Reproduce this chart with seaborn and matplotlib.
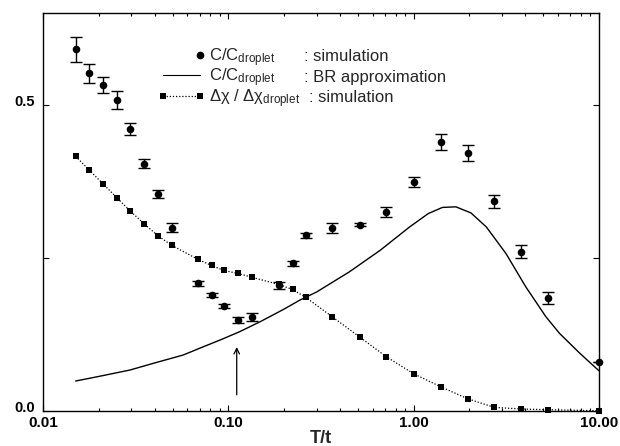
import numpy as np
import pandas as pd
import seaborn as sns
import matplotlib.pyplot as plt
import matplotlib.transforms as mtransforms
from matplotlib.ticker import FixedLocator, NullFormatter

# T/t hodnoty pro body simulace
T = [0.015, 0.0178, 0.0211, 0.025, 0.0296, 0.0352, 0.0415, 0.0494, 0.0687,
     0.0812, 0.0949, 0.113, 0.1334, 0.187, 0.222, 0.262, 0.3645, 0.512,
     0.713, 1.0, 1.398, 1.955, 2.72, 3.806, 5.32, 10.0]

# C/C_droplet simulace + chyby
C_sim = [0.590, 0.551, 0.532, 0.507, 0.4595, 0.4036, 0.354, 0.299, 0.208,
         0.189, 0.171, 0.1475, 0.153, 0.2046, 0.2405, 0.2866, 0.299, 0.304,
         0.3246, 0.374, 0.4388, 0.421, 0.342, 0.260, 0.1843, 0.080]
C_err = [0.020, 0.015, 0.0125, 0.0145, 0.0098, 0.0073, 0.0068, 0.0068, 0.0046,
         0.004, 0.003, 0.005, 0.006, 0.006, 0.004, 0.004, 0.008, 0.003,
         0.008, 0.008, 0.013, 0.013, 0.011, 0.0106, 0.0104, 0.0]

# delta chi / delta chi_droplet
dchi = [0.4155, 0.3927, 0.3703, 0.3481, 0.3258, 0.3051, 0.2861, 0.2703, 0.247,
        0.2372, 0.229, 0.2241, 0.2181, 0.2062, 0.198, 0.185, 0.1533, 0.1202,
        0.0881, 0.0604, 0.0392, 0.0196, 0.0055, 0.0028, 0.0016, 0.0]

# BR aproximace
BR_T = [0.015, 0.02, 0.0294, 0.04, 0.057, 0.07, 0.092, 0.115, 0.15, 0.2,
        0.243, 0.30, 0.45, 0.66, 0.95, 1.2, 1.43, 1.69, 2.04, 2.47, 3.15,
        4.03, 5.18, 6.13, 7.9, 10.0]
BR = [0.0485, 0.056, 0.0664, 0.078, 0.0909, 0.102, 0.1165, 0.129, 0.146,
      0.166, 0.1806, 0.194, 0.2268, 0.262, 0.300, 0.322, 0.332, 0.333, 0.323,
      0.300, 0.2567, 0.2023, 0.1533, 0.1263, 0.0936, 0.0653]

x_ticks = [0.01, 0.1, 1.0, 10.0]
x_labels = ["0.01", "0.10", "1.00", "10.00"]
y_ticks = [0.0, 0.25, 0.5]
y_labels = ["0.0", "", "0.5"]

arrow_T = 0.111

sim = pd.DataFrame({"T": T, "C": C_sim, "err": C_err, "dchi": dchi})
br = pd.DataFrame({"T": BR_T, "C": BR})

sns.set_style("ticks")
plt.rcParams["font.family"] = ["Liberation Sans", "DejaVu Sans"]
plt.rcParams["mathtext.fontset"] = "custom"
plt.rcParams["mathtext.rm"] = "Liberation Sans"
plt.rcParams["mathtext.it"] = "Liberation Sans:italic"

fig = plt.figure(figsize=(6.2, 4.46), dpi=100)
ax = fig.add_axes([0.0694, 0.0791, 0.8966, 0.8924])

# BR krivka
sns.lineplot(data=br, x="T", y="C", color="black", linewidth=1.0, ax=ax,
             sort=False)

# delta chi - ctverecky s teckovanou carou
sns.lineplot(data=sim, x="T", y="dchi", color="black", linewidth=0.9,
             linestyle=(0, (1, 1.5)), marker="s", markersize=4.6,
             markeredgewidth=0, ax=ax, clip_on=False)

# chybove usecky + kolecka
ax.errorbar(sim["T"], sim["C"], yerr=sim["err"], fmt="none", ecolor="black",
            elinewidth=1.0, capsize=4, capthick=1.0)
sns.scatterplot(data=sim, x="T", y="C", color="black", s=30, linewidth=0,
                ax=ax, clip_on=False, zorder=5)

# sipka
ax.annotate("", xy=(arrow_T, 0.104), xytext=(arrow_T, 0.026),
            arrowprops=dict(arrowstyle="->", color="black", lw=0.9,
                            shrinkA=0, shrinkB=0))

ax.set_xscale("log")
ax.set_xlim(0.01, 10.0)
ax.set_ylim(0.0, 0.65)

ax.xaxis.set_major_locator(FixedLocator(x_ticks))
ax.set_xticklabels(x_labels)
ax.xaxis.set_minor_locator(FixedLocator(
    [m * 10.0 ** e for e in range(-2, 1) for m in range(2, 10)]))
ax.xaxis.set_minor_formatter(NullFormatter())
ax.set_yticks(y_ticks)
ax.set_yticklabels(y_labels)

ax.tick_params(which="both", direction="in", top=True, right=True,
               width=0.8, colors="black")
ax.tick_params(which="major", length=4.5)
ax.tick_params(which="minor", length=2.5)
ax.tick_params(axis="x", pad=4, labelsize=11)
ax.tick_params(axis="y", pad=6, labelsize=10.5)
for lab in ax.get_xticklabels() + ax.get_yticklabels():
    lab.set_fontweight("bold")
# y popisky trochu nahoru, at se nebiji s 0.01
posun = mtransforms.ScaledTranslation(0, 3 / 72, fig.dpi_scale_trans)
for lab in ax.get_yticklabels():
    lab.set_transform(lab.get_transform() + posun)

for s in ax.spines.values():
    s.set_linewidth(1.0)
    s.set_color("black")

ax.set_xlabel("T/t", fontsize=13, fontweight="bold", labelpad=0)
ax.set_ylabel("")

# legenda rucne
tr = ax.transAxes
ax.plot([0.282], [0.895], "o", color="black", ms=4.5, transform=tr)
ax.plot([0.216, 0.282], [0.843, 0.843], "-", color="black", lw=0.8,
        transform=tr)
ax.plot([0.216, 0.282], [0.791, 0.791], color="black", lw=0.9,
        linestyle=(0, (1, 1.5)), marker="s", ms=4.3, mew=0, transform=tr)

fs = 12
rows = [0.879, 0.827, 0.775]
ax.text(0.299, rows[0], r"C/C$_{\mathrm{droplet}}$", fontsize=fs, transform=tr)
ax.text(0.469, rows[0], ": simulation", fontsize=fs, transform=tr)
ax.text(0.299, rows[1], r"C/C$_{\mathrm{droplet}}$", fontsize=fs, transform=tr)
ax.text(0.469, rows[1], ": BR approximation", fontsize=fs, transform=tr)
ax.text(0.299, rows[2], r"Δχ / Δχ$_{\mathrm{droplet}}$", fontsize=fs,
        transform=tr)
ax.text(0.478, rows[2], ": simulation", fontsize=fs, transform=tr)

plt.savefig("out.png", dpi=100)
